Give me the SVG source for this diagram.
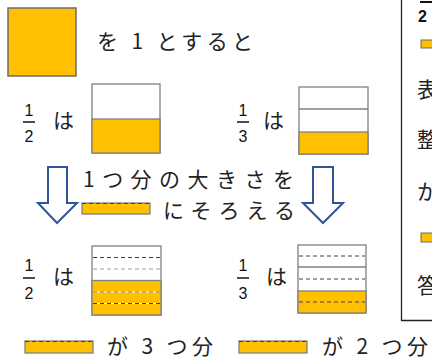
<svg xmlns="http://www.w3.org/2000/svg" width="432" height="360" viewBox="0 0 432 360">
<style>
.jp{font-family:"Noto Sans CJK JP","Noto Sans CJK SC",sans-serif;font-size:21px;fill:#222;}
.num{font-family:"Liberation Sans",Arial,sans-serif;font-size:16px;fill:#111;}
.box{fill:#fff;stroke:#808080;stroke-width:1.3;}
.org{fill:#FFC000;stroke:#808080;stroke-width:1.3;}
.div{stroke:#808080;stroke-width:1.3;}
.dsh{stroke:#404040;stroke-width:1;stroke-dasharray:4 3;}
.dshl{stroke:#A0A0A0;stroke-width:1.2;stroke-dasharray:4 3;}
.wht{stroke:#fff;stroke-width:1;}
.arr{fill:#fff;stroke:#2F5597;stroke-width:2;stroke-linejoin:miter;}
.bar{stroke:#111;stroke-width:1.5;}
</style>
<rect width="432" height="360" fill="#fff"/>

<g id="unit">
<rect x="8" y="8" width="68" height="68" fill="#FFC000" stroke="#6b6b6b" stroke-width="1.5"/>
<text class="jp" x="97" y="49" font-size="22" textLength="156" lengthAdjust="spacing">を 1 とすると</text>
</g>

<g id="half-top">
<text class="num" x="29" y="116" text-anchor="middle">1</text>
<line class="bar" x1="23" y1="122" x2="35" y2="122"/>
<text class="num" x="29" y="142" text-anchor="middle">2</text>
<text class="jp" x="53" y="128">は</text>
<rect class="box" x="92" y="84" width="68" height="69"/>
<rect class="org" x="92" y="119" width="68" height="34"/>
</g>

<g id="third-top">
<text class="num" x="243" y="116" text-anchor="middle">1</text>
<line class="bar" x1="237" y1="122" x2="249" y2="122"/>
<text class="num" x="243" y="142" text-anchor="middle">3</text>
<text class="jp" x="263" y="128">は</text>
<rect class="box" x="299" y="87" width="69" height="67"/>
<line class="div" x1="299" y1="109" x2="368" y2="109"/>
<rect class="org" x="299" y="132" width="69" height="22"/>
</g>

<g id="connectors">
<path class="arr" d="M48,167 H67 V203 H77 L57,223 L38,203 H48 Z"/>
<path class="arr" d="M313,167 H333 V203 H343 L323,223 L303,203 H313 Z"/>
</g>

<g id="instruction">
<text class="jp" x="83" y="187" font-size="22" textLength="211" lengthAdjust="spacing">1つ分の大きさを</text>
<rect class="org" x="82" y="203" width="68" height="11"/>
<line class="dsh" x1="82" y1="203.5" x2="150" y2="203.5" stroke-dasharray="2 1"/>
<text class="jp" x="163" y="218" font-size="22" textLength="132" lengthAdjust="spacing">にそろえる</text>
</g>

<g id="half-bottom">
<text class="num" x="29" y="271" text-anchor="middle">1</text>
<line class="bar" x1="23" y1="278" x2="35" y2="278"/>
<text class="num" x="29" y="299" text-anchor="middle">2</text>
<text class="jp" x="53" y="284">は</text>
<rect class="box" x="92" y="246" width="69" height="69"/>
<rect class="org" x="92" y="280.5" width="69" height="34.5"/>
<line class="dsh" x1="93" y1="257.5" x2="160" y2="257.5"/>
<line class="dshl" x1="93" y1="269" x2="160" y2="269"/>
<line class="wht" x1="93" y1="292" x2="160" y2="292"/>
<line x1="93" y1="292" x2="160" y2="292" stroke="#9a7a20" stroke-width="1.2" stroke-dasharray="4 3"/>
<line class="wht" x1="93" y1="303.5" x2="160" y2="303.5"/>
<line class="dsh" x1="93" y1="303.5" x2="160" y2="303.5"/>
</g>

<g id="third-bottom">
<text class="num" x="243" y="271" text-anchor="middle">1</text>
<line class="bar" x1="237" y1="278" x2="249" y2="278"/>
<text class="num" x="243" y="299" text-anchor="middle">3</text>
<text class="jp" x="266" y="284">は</text>
<rect class="box" x="298" y="245" width="68" height="68"/>
<line class="div" x1="298" y1="267" x2="366" y2="267"/>
<rect class="org" x="298" y="291" width="68" height="22"/>
<line class="dsh" x1="299" y1="256" x2="365" y2="256" stroke-dasharray="3 1.5"/>
<line class="dsh" x1="299" y1="279" x2="365" y2="279" stroke-dasharray="3 1.5"/>
<line class="dsh" x1="299" y1="302" x2="365" y2="302" stroke-dasharray="3 1.5"/>
</g>

<g id="answer-left">
<rect class="org" x="25" y="341" width="68" height="12"/>
<line class="dsh" x1="25" y1="341.5" x2="93" y2="341.5" stroke-dasharray="1.5 1"/>
<text class="jp" x="107" y="354" font-size="21" textLength="106" lengthAdjust="spacing">が 3 つ分</text>
</g>

<g id="answer-right">
<rect class="org" x="239" y="341" width="68" height="12"/>
<line class="dsh" x1="239" y1="341.5" x2="307" y2="341.5" stroke-dasharray="1.5 1"/>
<text class="jp" x="322" y="354" font-size="21" textLength="106" lengthAdjust="spacing">が 2 つ分</text>
</g>

<g id="side-panel">
<path d="M401.5,0 V320.5 H432" fill="none" stroke="#222" stroke-width="1.3"/>
<line x1="420" y1="2" x2="432" y2="2" stroke="#111" stroke-width="2"/>
<text class="num" x="418" y="22" font-size="14" font-weight="bold">2</text>
<rect x="421" y="40" width="14" height="8" fill="#FFC000" stroke="#6b6b6b" stroke-width="1"/>
<text class="jp" x="417" y="97" font-size="20">表</text>
<text class="jp" x="417" y="147" font-size="20">整</text>
<text class="jp" x="417" y="199" font-size="20">か</text>
<rect x="421" y="233" width="14" height="9" fill="#FFC000" stroke="#6b6b6b" stroke-width="1"/>
<text class="jp" x="417" y="293" font-size="20">答</text>
</g>
</svg>
